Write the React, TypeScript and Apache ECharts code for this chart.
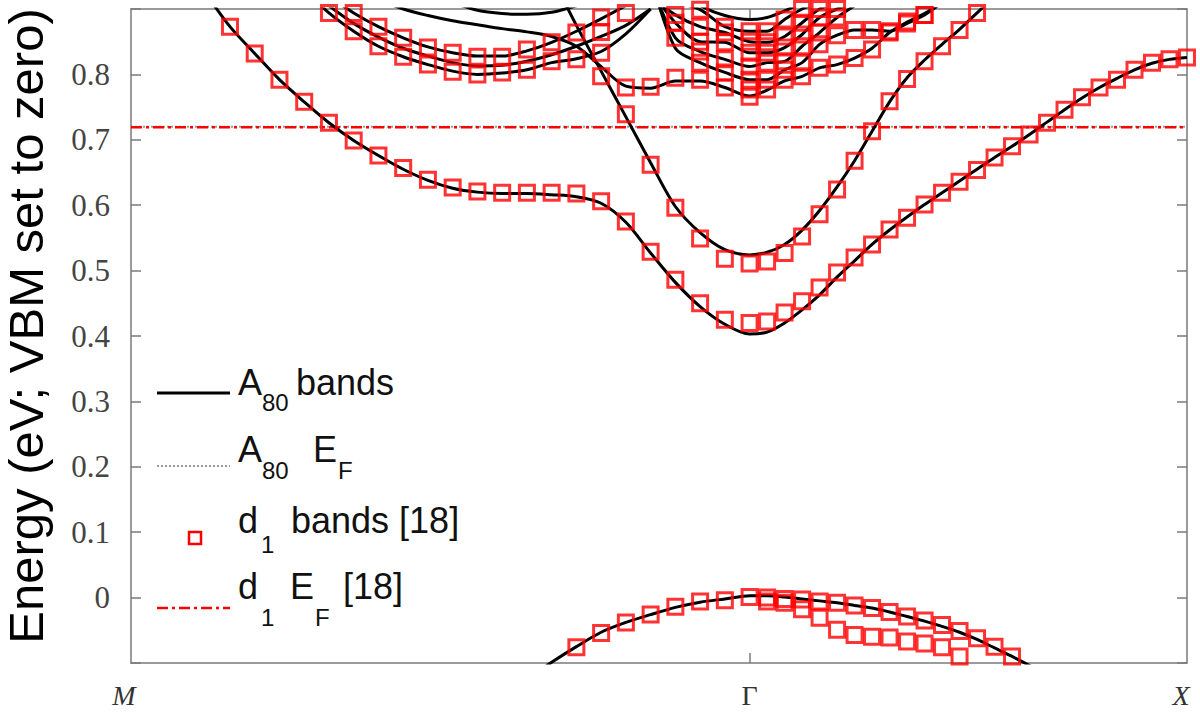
import React, { useEffect, useRef } from "react";
import * as echarts from "echarts";

// ---- k-path: M (0) -> Γ (1) -> X (1 + 1/√2), 25 grid steps per segment ----
const K_LABELS = ["M", "Γ", "X"];
const K_X = 1 + Math.SQRT1_2;
const STEPS = 25;
const kAt = (i: number) => (i <= STEPS ? i / STEPS : 1 + ((i - STEPS) / STEPS) * Math.SQRT1_2);

// ---- Fermi levels (eV) ----
const EF_A80 = 0.72;
const EF_D1 = 0.719;

// ---- A80 bands (black lines): energies on the k-grid starting at index `from` ----
const BAND_C1 = { from: 3, e: [0.925, 0.873, 0.832, 0.792, 0.758, 0.726, 0.699, 0.676, 0.655, 0.638, 0.626, 0.62, 0.618, 0.618, 0.616, 0.613, 0.603, 0.574, 0.527, 0.482, 0.445, 0.418, 0.403, 0.406, 0.42, 0.44, 0.463, 0.49, 0.515, 0.54, 0.562, 0.582, 0.601, 0.619, 0.637, 0.655, 0.673, 0.69, 0.708, 0.727, 0.746, 0.764, 0.78, 0.794, 0.807, 0.817, 0.823, 0.826] };
const BAND_C2 = { from: 17, e: [0.95, 0.875, 0.805, 0.735, 0.665, 0.598, 0.558, 0.532, 0.524, 0.528, 0.54, 0.562, 0.592, 0.628, 0.668, 0.713, 0.758, 0.795, 0.822, 0.846, 0.869, 0.894, 0.92] };
const BAND_C3 = { from: 10, e: [0.915, 0.9, 0.89, 0.882, 0.876, 0.87, 0.865, 0.858, 0.843, 0.812, 0.782, 0.779, 0.79, 0.79, 0.78, 0.767, 0.776, 0.79, 0.797, 0.81, 0.815, 0.825, 0.84, 0.864, 0.88, 0.893, 0.91] };
const BAND_U1 = { from: 8, e: [0.92, 0.894, 0.873, 0.856, 0.842, 0.833, 0.828, 0.828, 0.836, 0.849, 0.866, 0.885, 0.905] };
const BAND_UM = { from: 7, e: [0.935, 0.905, 0.878, 0.857, 0.84, 0.828, 0.818, 0.813, 0.814, 0.82, 0.83, 0.843, 0.858, 0.875, 0.9] };
const BAND_U2 = { from: 7, e: [0.93, 0.894, 0.866, 0.843, 0.827, 0.815, 0.805, 0.8, 0.802, 0.807, 0.818, 0.824, 0.835, 0.862, 0.9] };
const BAND_TOP = { from: 13, e: [0.91, 0.898, 0.893, 0.892, 0.895, 0.905] };
const BAND_ARC = { from: 22, e: [0.93, 0.905, 0.89, 0.884, 0.887, 0.897, 0.91] };
const BAND_R2 = { from: 21, e: [0.95, 0.84, 0.818, 0.803, 0.792, 0.792, 0.807, 0.818, 0.846, 0.86, 0.868, 0.868, 0.866, 0.878, 0.891, 0.91] };
const BAND_R3 = { from: 21, e: [0.94, 0.856, 0.835, 0.823, 0.812, 0.818, 0.82, 0.843, 0.864, 0.887, 0.905] };
const BAND_R4 = { from: 21, e: [0.93, 0.879, 0.85, 0.849, 0.833, 0.833, 0.841, 0.861, 0.887, 0.9, 0.91] };
const BAND_R5 = { from: 21, e: [0.92, 0.891, 0.873, 0.864, 0.85, 0.849, 0.858, 0.879, 0.9, 0.91] };
const BAND_R6 = { from: 22, e: [0.91, 0.899, 0.873, 0.866, 0.866, 0.884, 0.9, 0.91] };
const BAND_V = { from: 16, e: [-0.125, -0.099, -0.075, -0.053, -0.038, -0.026, -0.015, -0.007, -0.002, 0.003, 0.003, 0.001, -0.002, -0.005, -0.008, -0.012, -0.016, -0.022, -0.029, -0.036, -0.044, -0.053, -0.064, -0.077, -0.09, -0.104, -0.12] };

// ---- d1 bands [18] (red squares) ----
const SQ_C1 = { from: 4, e: [0.873, 0.832, 0.792, 0.758, 0.726, 0.699, 0.676, 0.657, 0.639, 0.627, 0.621, 0.619, 0.619, 0.619, 0.618, 0.606, 0.575, 0.529, 0.486, 0.45, 0.425, 0.42, 0.422, 0.436, 0.453, 0.474, 0.497, 0.52, 0.54, 0.563, 0.581, 0.601, 0.619, 0.636, 0.654, 0.673, 0.69, 0.708, 0.726, 0.746, 0.765, 0.78, 0.792, 0.807, 0.818, 0.823, 0.826] };
const SQ_C2 = { from: 20, e: [0.739, 0.662, 0.596, 0.549, 0.518, 0.511, 0.514, 0.527, 0.552, 0.586, 0.624, 0.668, 0.713, 0.759, 0.793, 0.82, 0.843, 0.868, 0.894] };
const SQ_C3 = { from: 19, e: [0.797, 0.78, 0.781, 0.795, 0.792, 0.78, 0.766, 0.777, 0.792, 0.797, 0.81, 0.815, 0.825, 0.838, 0.864, 0.881, 0.891] };
const SQ_U1 = { from: 9, e: [0.894, 0.873, 0.856, 0.841, 0.833, 0.827, 0.827, 0.838, 0.849, 0.864, 0.887, 0.894] };
const SQ_U2 = { from: 8, e: [0.894, 0.866, 0.843, 0.827, 0.815, 0.804, 0.8, 0.803, 0.807, 0.82, 0.823, 0.833] };
const SQ_R2 = { from: 23, e: [0.818, 0.803, 0.792, 0.792, 0.807, 0.818, 0.846, 0.86, 0.868, 0.868, 0.866, 0.878, 0.891] };
const SQ_R3 = { from: 22, e: [0.856, 0.835, 0.823, 0.812, 0.818, 0.82, 0.843, 0.864, 0.887] };
const SQ_R4 = { from: 22, e: [0.879, 0.85, 0.849, 0.833, 0.833, 0.841, 0.861, 0.887, 0.9] };
const SQ_R5 = { from: 22, e: [0.891, 0.873, 0.864, 0.85, 0.849, 0.858, 0.879, 0.9] };
const SQ_R6 = { from: 23, e: [0.899, 0.873, 0.866, 0.866, 0.884, 0.9] };
const SQ_EXTRA = [[25, 0.777], [19, 0.865]];
const SQ_V1 = { from: 18, e: [-0.076, -0.054, -0.038, -0.026, -0.014, -0.006, -0.004, 0.001, 0.0, -0.002, -0.003, -0.006, -0.008, -0.012, -0.016, -0.022, -0.029, -0.035, -0.042, -0.051, -0.062, -0.075, -0.09] };
const SQ_V2 = { from: 26, e: [-0.006, -0.008, -0.018, -0.031, -0.049, -0.057, -0.06, -0.061, -0.067, -0.07, -0.076, -0.09] };

const Y_TICKS_LABELLED = [0, 0.1, 0.2, 0.3, 0.4, 0.5, 0.6, 0.7, 0.8];

const LINE_BANDS = [BAND_C1, BAND_C2, BAND_C3, BAND_U1, BAND_UM, BAND_U2, BAND_TOP, BAND_ARC, BAND_R2, BAND_R3, BAND_R4, BAND_R5, BAND_R6, BAND_V];
const SQUARE_BANDS = [SQ_C1, SQ_C2, SQ_C3, SQ_U1, SQ_U2, SQ_R2, SQ_R3, SQ_R4, SQ_R5, SQ_R6, SQ_V1, SQ_V2];

const toPts = (b: { from: number; e: number[] }) => b.e.map((e, n) => [kAt(b.from + n), e]);

const RED = "#ff0000";
const FRAME = "#7a7a7a";

export default function App() {
  const ref = useRef<HTMLDivElement>(null);
  useEffect(() => {
    if (!ref.current) return;
    const chart = echarts.init(ref.current, undefined, { renderer: "svg" });

    const series: any[] = [];
    series.push({
      name: "A80 EF", type: "line", data: [[0, EF_A80], [K_X, EF_A80]], symbol: "none",
      lineStyle: { color: "#9a9a9a", width: 2, type: [2, 2] }, silent: true, z: 1,
    });
    series.push({
      name: "d1 EF", type: "line", data: [[0, EF_D1], [K_X, EF_D1]], symbol: "none",
      lineStyle: { color: RED, width: 2.5, type: [11, 4, 3, 4] }, silent: true, z: 2,
    });
    LINE_BANDS.forEach((b, idx) => {
      series.push({
        name: "A80 bands " + idx, type: "line", data: toPts(b), symbol: "none", showSymbol: false,
        smooth: 0.3, clip: true, silent: true, z: 3,
        lineStyle: { color: "#000", width: 3 },
      });
    });
    const sqStyle = { color: "rgba(255,255,255,0)", borderColor: RED, borderWidth: 3 };
    SQUARE_BANDS.forEach((b, idx) => {
      series.push({
        name: "d1 bands " + idx, type: "scatter", data: toPts(b), symbol: "rect", symbolSize: 15,
        itemStyle: sqStyle, clip: false, silent: true, z: 4,
      });
    });
    series.push({
      name: "d1 bands extra", type: "scatter", data: SQ_EXTRA.map(([i, e]) => [kAt(i), e]), symbol: "rect",
      symbolSize: 15, itemStyle: sqStyle, clip: false, silent: true, z: 4,
    });

    const xLabelFmt = (v: number) => {
      if (Math.abs(v) < 1e-6) return "{it|" + K_LABELS[0] + "}";
      if (Math.abs(v - 1) < 1e-6) return "{up|" + K_LABELS[1] + "}";
      return "{itx|" + K_LABELS[2] + "}";
    };
    const serif = "'Liberation Serif', 'DejaVu Serif', serif";
    const sans = "'Liberation Sans', Arial, sans-serif";

    const txt = (text: string, x: number, y: number, size: number) => ({
      type: "text", x, y,
      style: { text, fontSize: size, fontFamily: sans, fill: "#111", textAlign: "left", textVerticalAlign: "middle" },
      silent: true,
    });
    const frameLine = { show: true, onZero: false, lineStyle: { color: FRAME, width: 1.5 } };
    const frameTick = { show: true, inside: true, length: 10, lineStyle: { color: FRAME, width: 1.5 } };

    chart.setOption({
      animation: false,
      backgroundColor: "#fff",
      grid: { left: 131, right: 13, top: 9, bottom: 56, containLabel: false, outerBoundsMode: "none" },
      xAxis: [
        {
          type: "value", min: 0, max: K_X, position: "bottom",
          axisLine: frameLine,
          axisTick: { ...frameTick, customValues: [1] },
          axisLabel: {
            show: true, customValues: [0, 1, K_X], formatter: xLabelFmt, margin: 18,
            showMinLabel: true, showMaxLabel: true,
            rich: {
              it: { fontFamily: serif, fontStyle: "italic", fontSize: 28, color: "#333", padding: [0, 14, 0, 0] },
              itx: { fontFamily: serif, fontStyle: "italic", fontSize: 28, color: "#333", padding: [0, 12, 0, 0] },
              up: { fontFamily: serif, fontSize: 28, color: "#333" },
            },
          },
          splitLine: { show: false },
        },
        {
          type: "value", min: 0, max: K_X, position: "top",
          axisLine: frameLine,
          axisTick: { ...frameTick, customValues: [1] },
          axisLabel: { show: false },
          splitLine: { show: false },
        },
      ],
      yAxis: [
        {
          type: "value", min: -0.1, max: 0.9, interval: 0.1, position: "left",
          name: "Energy (eV; VBM set to zero)", nameLocation: "middle", nameRotate: 90, nameGap: 83,
          nameTextStyle: { fontFamily: sans, fontSize: 49, lineHeight: 44, color: "#000", padding: [0, 0, 0, 20] },
          axisLine: frameLine,
          axisTick: frameTick,
          axisLabel: {
            margin: 21, fontFamily: serif, fontSize: 31, color: "#444",
            formatter: (v: number) => {
              const hit = Y_TICKS_LABELLED.find((t) => Math.abs(t - v) < 1e-6);
              if (hit === undefined) return "";
              return hit === 0 ? "0" : hit.toFixed(1);
            },
          },
          splitLine: { show: false },
        },
        {
          type: "value", min: -0.1, max: 0.9, interval: 0.1, position: "right",
          axisLine: frameLine,
          axisTick: frameTick,
          axisLabel: { show: false },
          splitLine: { show: false },
        },
      ],
      series,
      graphic: [
        { type: "line", shape: { x1: 157, y1: 393, x2: 230, y2: 393 }, style: { stroke: "#000", lineWidth: 3 }, silent: true },
        txt("A", 238, 382, 36), txt("80", 262, 402, 24), txt("bands", 296, 382, 36),
        { type: "line", shape: { x1: 157, y1: 466, x2: 230, y2: 466 }, style: { stroke: "#9a9a9a", lineWidth: 2, lineDash: [2, 2] }, silent: true },
        txt("A", 238, 449, 36), txt("80", 262, 470, 24), txt("E", 313, 449, 36), txt("F", 338, 470, 24),
        { type: "rect", shape: { x: 189, y: 532, width: 12, height: 12 }, style: { fill: "none", stroke: RED, lineWidth: 2.5 }, silent: true },
        txt("d", 238, 520, 36), txt("1", 261, 544, 24), txt("bands [18]", 291, 520, 36),
        { type: "line", shape: { x1: 157, y1: 608, x2: 230, y2: 608 }, style: { stroke: RED, lineWidth: 2.5, lineDash: [11, 4, 3, 4] }, silent: true },
        txt("d", 238, 586, 36), txt("1", 261, 617, 24), txt("E", 290, 586, 36), txt("F", 315, 617, 24), txt("[18]", 343, 586, 36),
      ],
    });
    return () => chart.dispose();
  }, []);
  return <div ref={ref} style={{ position: "fixed", left: 0, top: 0, width: 1200, height: 719, background: "#fff" }} />;
}
